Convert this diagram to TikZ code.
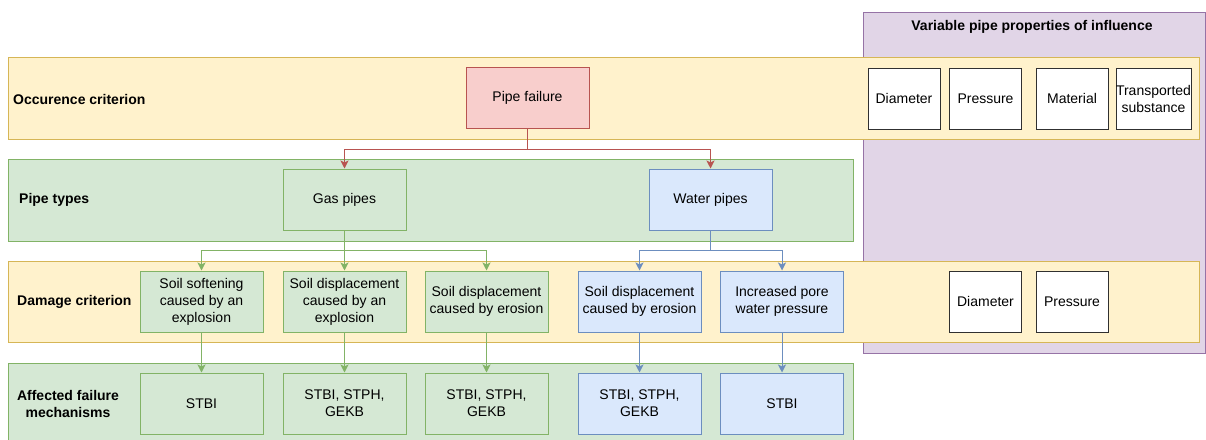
\documentclass[tikz,border=0pt]{standalone}
\usepackage{fontspec}
\setmainfont{Liberation Sans}
\usetikzlibrary{arrows.meta}

\definecolor{ylwfill}{HTML}{FFF2CC}
\definecolor{ylwline}{HTML}{D6B656}
\definecolor{grnfill}{HTML}{D5E8D4}
\definecolor{grnline}{HTML}{82B366}
\definecolor{redfill}{HTML}{F8CECC}
\definecolor{redline}{HTML}{B85450}
\definecolor{blufill}{HTML}{DAE8FC}
\definecolor{bluline}{HTML}{6C8EBF}
\definecolor{prpfill}{HTML}{E1D5E7}
\definecolor{prpline}{HTML}{9673A6}
\definecolor{propline}{HTML}{303030}

\tikzset{
  txt/.style={font=\fontsize{14}{17}\selectfont, text=black, align=center},
  band/.style={draw, line width=1pt, anchor=north west, inner sep=0pt},
  yband/.style={band, fill=ylwfill, draw=ylwline},
  gband/.style={band, fill=grnfill, draw=grnline},
  pband/.style={band, fill=prpfill, draw=prpline},
  cell/.style={txt, draw, line width=1pt, inner sep=0pt, minimum width=123pt, minimum height=61pt},
  gcell/.style={cell, fill=grnfill, draw=grnline},
  bcell/.style={cell, fill=blufill, draw=bluline},
  rcell/.style={cell, fill=redfill, draw=redline},
  prop/.style={txt, draw=propline, fill=white, line width=1pt, inner sep=0pt, minimum width=72pt, minimum height=61pt},
  rowlabel/.style={txt, inner sep=0pt, font=\fontsize{14}{17}\selectfont\bfseries},
  link/.style={line width=1pt, -{Stealth[length=8pt,width=8pt,inset=2pt]}},
  rlink/.style={link, draw=redline},
  glink/.style={link, draw=grnline},
  blink/.style={link, draw=bluline},
}

\begin{document}
\begin{tikzpicture}[x=1pt,y=-1pt]
\useasboundingbox (0,0) rectangle (1206,439);
\begin{scope}
\clip (0,0) rectangle (1206,439);

% right-hand panel of pipe properties
\node[pband, minimum width=342pt, minimum height=341pt] (props) at (863,12) {};
\node[rowlabel] (propstitle) at (1032,27) {Variable pipe properties of influence};

% horizontal bands
\node[yband, minimum width=1191pt, minimum height=82pt] (occband) at (8,57) {};
\node[gband, minimum width=845pt, minimum height=82pt] (typeband) at (8,159) {};
\node[yband, minimum width=1191pt, minimum height=81pt] (dmgband) at (8,261) {};
\node[gband, minimum width=845pt, minimum height=90pt] (mechband) at (8,363) {};

% band labels
\node[rowlabel, anchor=west] (occlabel) at (13,99) {Occurence criterion};
\node[rowlabel, anchor=west] (typelabel) at (19,200) {Pipe types};
\node[rowlabel, anchor=west] (dmglabel) at (17,302) {Damage criterion};
\node[rowlabel] (mechlabel) at (68,404) {Affected failure\\mechanisms};

% occurrence and pipe types
\node[rcell] (fail) at (527.5,98) {Pipe failure};
\node[gcell] (gas) at (344.5,199.5) {Gas pipes};
\node[bcell] (water) at (710.5,199.5) {Water pipes};

% damage criteria
\node[gcell] (d1) at (201.5,301.5) {Soil softening\\caused by an\\explosion};
\node[gcell] (d2) at (344.5,301.5) {Soil displacement\\caused by an\\explosion};
\node[gcell] (d3) at (486.5,301.5) {Soil displacement\\caused by erosion};
\node[bcell] (d4) at (639.5,301.5) {Soil displacement\\caused by erosion};
\node[bcell] (d5) at (782,301.5) {Increased pore\\water pressure};

% affected failure mechanisms
\node[gcell] (m1) at (201.5,403.5) {STBI};
\node[gcell] (m2) at (344.5,403.5) {STBI, STPH,\\GEKB};
\node[gcell] (m3) at (486.5,403.5) {STBI, STPH,\\GEKB};
\node[bcell] (m4) at (639.5,403.5) {STBI, STPH,\\GEKB};
\node[bcell] (m5) at (782,403.5) {STBI};

% pipe properties
\node[prop] (p1) at (904,98.5) {Diameter};
\node[prop] (p2) at (985.5,98.5) {Pressure};
\node[prop] (p3) at (1072,98.5) {Material};
\node[prop] (p4) at (1153.5,98.5) {Transported\\substance};
\node[prop] (q1) at (985.5,301.5) {Diameter};
\node[prop] (q2) at (1072,301.5) {Pressure};

% connectors
\draw[rlink] (fail.south) -- ++(0,20) -| (gas.north);
\draw[rlink] (fail.south) -- ++(0,20) -| (water.north);

\draw[glink] (gas.south) -- ++(0,20) -| (d1.north);
\draw[glink] (gas.south) -- (d2.north);
\draw[glink] (gas.south) -- ++(0,20) -| (d3.north);
\draw[blink] (water.south) -- ++(0,20) -| (d4.north);
\draw[blink] (water.south) -- ++(0,20) -| (d5.north);

\draw[glink] (d1.south) -- (m1.north);
\draw[glink] (d2.south) -- (m2.north);
\draw[glink] (d3.south) -- (m3.north);
\draw[blink] (d4.south) -- (m4.north);
\draw[blink] (d5.south) -- (m5.north);
\end{scope}
\end{tikzpicture}
\end{document}
